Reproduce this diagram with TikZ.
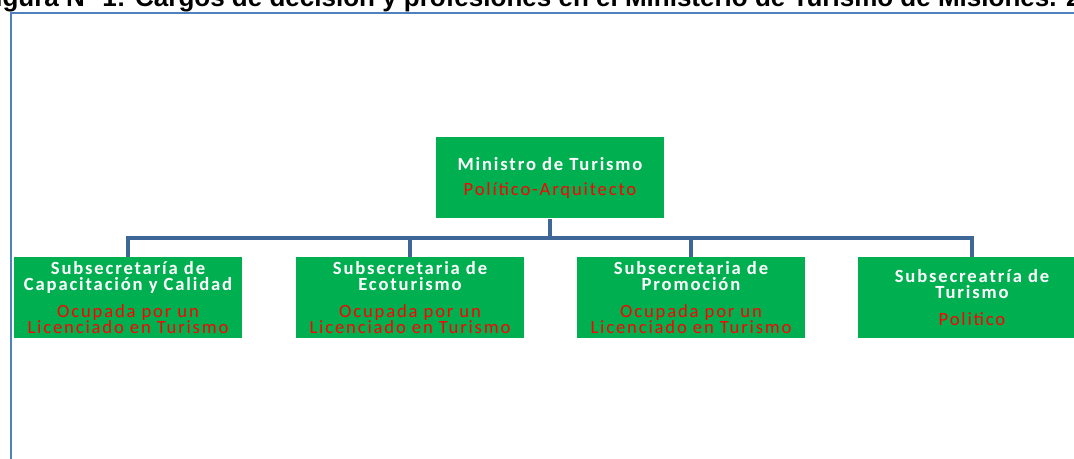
\documentclass[tikz,border=0pt]{standalone}
\usepackage{fontspec}
\setmainfont{Carlito}
\newfontfamily\titlefont{Liberation Sans}
\newfontfamily\boxfont{Carlito}[LetterSpace=10]
\usepackage{xcolor}
\usetikzlibrary{positioning,calc}

\definecolor{boxgreen}{HTML}{00B050}
\definecolor{linkblue}{HTML}{3E6696}
\definecolor{frameblue}{HTML}{4F81BD}
\newcommand{\holdertext}{\color{red}\mdseries}

\begin{document}
\begin{tikzpicture}[x=0.5pt, y=-0.5pt,
  post/.style={fill=boxgreen, text=white, align=center, inner sep=0pt,
    minimum width=114pt, minimum height=40.5pt,
    font=\boxfont\fontsize{9.3}{8.2}\selectfont},
  link/.style={draw=linkblue, line width=2.2pt},
  frame/.style={draw=frameblue, line width=1pt},
]
\useasboundingbox (0,0) rectangle (1074,459);

% --- Title and frame ---
\node[anchor=base west, inner sep=0pt, font=\titlefont\bfseries\fontsize{13}{15}\selectfont]
  (title) at (-21,7) {Figura N° 1: Cargos de decisión y profesiones en el Ministerio de Turismo de Misiones. 2015};
\draw[frame] (11,459) -- (11,13) -- (1074,13);

% --- Ministro ---
\node[post] (mintur) at (550,178)
  {\bfseries Ministro de Turismo\\[4.3pt]{\holdertext Político-Arquitecto}};

% --- Subsecretarias ---
\node[post] (subcap) at (128,297.5)
  {\bfseries Subsecretaría de\\\bfseries Capacitación y Calidad\\[5pt]
   {\holdertext Ocupada por un}\\{\holdertext Licenciado en Turismo}};
\node[post] (subeco) at (410,297.5)
  {\bfseries Subsecretaria de\\\bfseries Ecoturismo\\[5pt]
   {\holdertext Ocupada por un}\\{\holdertext Licenciado en Turismo}};
\node[post] (subpro) at (691,297.5)
  {\bfseries Subsecretaria de\\\bfseries Promoción\\[5pt]
   {\holdertext Ocupada por un}\\{\holdertext Licenciado en Turismo}};
\node[post] (subtur) at (972,297.5)
  {\bfseries Subsecreatría de\\\bfseries Turismo\\[5pt]
   {\holdertext Politico}};

% --- Connectors ---
\coordinate (bus) at (550,238);
\draw[link] (mintur.south) -- (bus);
\draw[link] (subcap.north) |- (bus) -| (subtur.north);
\draw[link] (subeco.north) -- (subeco.north |- bus);
\draw[link] (subpro.north) -- (subpro.north |- bus);
\end{tikzpicture}
\end{document}
